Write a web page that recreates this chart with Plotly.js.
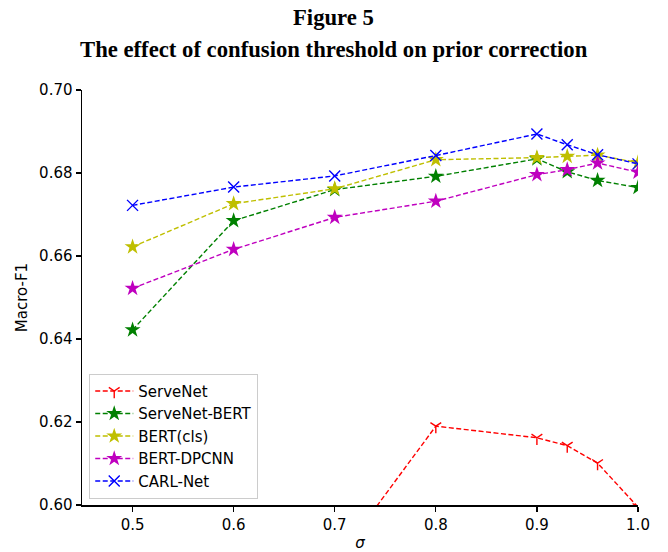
<!DOCTYPE html>
<html><head><meta charset="utf-8">
<script src="https://cdn.plot.ly/plotly-3.0.1.min.js"></script>
<style>html,body{margin:0;padding:0;background:#fff}#chart{width:668px;height:552px}</style>
</head><body><div id="chart"></div>
<script>
const sigma = [0.5, 0.6, 0.7, 0.8, 0.9, 0.93, 0.96, 1.0];
const serveNet = [0.550, 0.570, 0.586, 0.619, 0.6162, 0.6143, 0.6101, 0.5995];
const serveNetBert = [0.6422, 0.6685, 0.6760, 0.6792, 0.6834, 0.6803, 0.6782, 0.6765];
const bertCls = [0.6622, 0.6726, 0.6762, 0.6832, 0.6837, 0.6840, 0.6843, 0.6825];
const bertDpcnn = [0.6522, 0.6616, 0.6693, 0.6732, 0.6796, 0.6808, 0.6824, 0.6802];
const carlNet = [0.6722, 0.6766, 0.6793, 0.6842, 0.6894, 0.6868, 0.6844, 0.6822];

const names = ["ServeNet", "ServeNet-BERT", "BERT(cls)", "BERT-DPCNN", "CARL-Net"];
const series = [serveNet, serveNetBert, bertCls, bertDpcnn, carlNet];
const colors = ["#ff0000", "#008000", "#bfbf00", "#bf00bf", "#0000ff"];
const symbols = ["y-down", "star", "star", "star", "x-thin"];
const titleLines = ["Figure 5", "The effect of confusion threshold on prior correction"];

const traces = series.map((ys, i) => {
  const open = symbols[i] === "y-down" || symbols[i] === "x-thin";
  return {
    x: sigma, y: ys, name: names[i], type: "scatter", mode: "lines+markers",
    line: {color: colors[i], width: 1.4, dash: "5px,2.5px"},
    marker: open
      ? {symbol: symbols[i], size: i === 0 ? 9 : 11, color: colors[i], line: {color: colors[i], width: 1.4}}
      : {symbol: symbols[i], size: 12, color: colors[i], line: {width: 0}},
    cliponaxis: true
  };
});

const layout = {
  width: 668, height: 552,
  margin: {l: 82, r: 30, t: 90, b: 47},
  paper_bgcolor: "#fff", plot_bgcolor: "#fff",
  font: {family: "DejaVu Sans", size: 15, color: "#000"},
  annotations: [
    {text: "<b>" + titleLines[0] + "</b>", xref: "paper", yref: "paper", x: 0.4532, y: 1 + 72/415,
     xanchor: "center", yanchor: "middle", showarrow: false,
     font: {family: "Liberation Serif", size: 22.7, color: "#000"}},
    {text: "<b>" + titleLines[1] + "</b>", xref: "paper", yref: "paper", x: 0.4532, y: 1 + 41/415,
     xanchor: "center", yanchor: "middle", showarrow: false,
     font: {family: "Liberation Serif", size: 22.7, color: "#000"}}
  ],
  xaxis: {
    range: [0.45, 1.0], tickvals: [0.5, 0.6, 0.7, 0.8, 0.9, 1.0], ticktext: ["0.5","0.6","0.7","0.8","0.9","1.0"],
    showgrid: false, zeroline: false, showline: true, linecolor: "#000", linewidth: 1.5,
    ticks: "outside", ticklen: 5, tickwidth: 1.2, tickcolor: "#000",
    tickfont: {size: 15},
    title: {text: "<i>σ</i>", font: {size: 15}, standoff: 6}
  },
  yaxis: {
    range: [0.60, 0.70], tickvals: [0.60, 0.62, 0.64, 0.66, 0.68, 0.70], ticktext: ["0.60","0.62","0.64","0.66","0.68","0.70"],
    showgrid: false, zeroline: false, showline: true, linecolor: "#000", linewidth: 1.5,
    ticks: "outside", ticklen: 5, tickwidth: 1.2, tickcolor: "#000",
    tickfont: {size: 15},
    title: {text: "Macro-F1", font: {size: 15}, standoff: 8}
  },
  legend: {
    x: 0.013, y: 0.015, xanchor: "left", yanchor: "bottom",
    bgcolor: "rgba(255,255,255,0.8)", bordercolor: "#cccccc", borderwidth: 1,
    font: {size: 15}, tracegroupgap: 0, itemwidth: 38
  },
  showlegend: true
};

Plotly.newPlot("chart", traces, layout, {displayModeBar: false, staticPlot: true});
</script></body></html>
